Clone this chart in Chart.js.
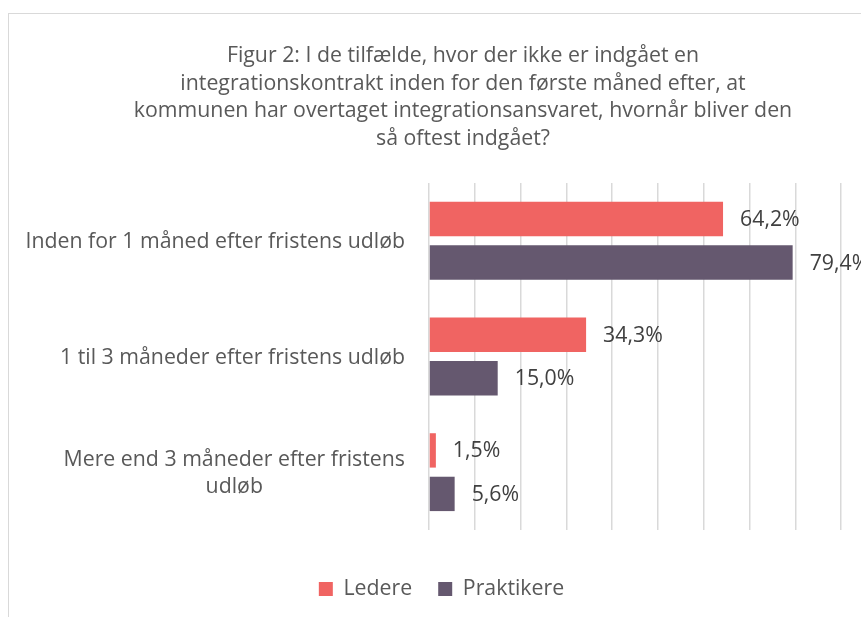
<!DOCTYPE html>
<html>
<head>
<meta charset="utf-8">
<script src="https://cdn.jsdelivr.net/npm/chart.js@4.4.1/dist/chart.umd.min.js"></script>
<style>
html,body{margin:0;padding:0;background:#fff;overflow:hidden;width:861px;height:617px}
#wrap{position:absolute;left:8px;top:13px;width:908px;height:640px;border:1px solid #D9D9D9;background:#fff}
canvas{display:block}
</style>
</head>
<body>
<div id="wrap"><canvas id="c" width="908" height="640"></canvas></div>
<script>
// ---- data ----
const titleLines = [
  "Figur 2: I de tilfælde, hvor der ikke er indgået en",
  "integrationskontrakt inden for den første måned efter, at",
  "kommunen har overtaget integrationsansvaret, hvornår bliver den",
  "så oftest indgået?"
];
const categories = [
  ["Inden for 1 måned efter fristens udløb"],
  ["1 til 3 måneder efter fristens udløb"],
  ["Mere end 3 måneder efter fristens", "udløb"]
];
const seriesNames = ["Ledere", "Praktikere"];
const ledere = [64.2, 34.3, 1.5];
const praktikere = [79.4, 15.0, 5.6];
const xMin = 0, xMax = 100, xStep = 10;

// ---- styles ----
const FONT = "Open Sans";
const FS = 21.3;
const TEXT = "#595959";
const LABEL = "#404040";
const colors = ["#F06462", "#65586F"];

const yLabelPlugin = {
  id: "yLabels",
  afterDraw(chart) {
    const s = chart.scales.y, ctx = chart.ctx;
    ctx.save();
    ctx.font = FS + "px '" + FONT + "'";
    ctx.fillStyle = TEXT;
    ctx.textAlign = "center";
    ctx.textBaseline = "alphabetic";
    const right = s.right - 24;
    const lh = 27.5;
    categories.forEach((lines, i) => {
      const cy = s.getPixelForValue(i);
      const w = Math.max(...lines.map(l => ctx.measureText(l).width));
      const cx = right - w / 2;
      const y0 = cy + 7.5 - (lines.length - 1) * lh / 2;
      lines.forEach((l, j) => ctx.fillText(l, cx, y0 + j * lh));
    });
    ctx.restore();
  }
};

const valueLabelPlugin = {
  id: "valueLabels",
  afterDatasetsDraw(chart) {
    const ctx = chart.ctx;
    ctx.save();
    ctx.font = FS + "px '" + FONT + "'";
    ctx.fillStyle = LABEL;
    ctx.textAlign = "left";
    ctx.textBaseline = "middle";
    chart.data.datasets.forEach((ds, di) => {
      const meta = chart.getDatasetMeta(di);
      meta.data.forEach((bar, i) => {
        const txt = ds.data[i].toFixed(1).replace(".", ",") + "%";
        ctx.fillText(txt, bar.x + 17, bar.y + 1);
      });
    });
    ctx.restore();
  }
};

const legendShift = {
  id: "legendShift",
  afterLayout(chart) {
    if (chart.legend) { chart.legend.right -= 43; }
  }
};

new Chart(document.getElementById("c"), {
  type: "bar",
  data: {
    labels: categories,
    datasets: [
      { label: seriesNames[0], data: ledere, backgroundColor: colors[0], borderWidth: 0,
        categoryPercentage: 0.752, barPercentage: 0.79 },
      { label: seriesNames[1], data: praktikere, backgroundColor: colors[1], borderWidth: 0,
        categoryPercentage: 0.752, barPercentage: 0.79 }
    ]
  },
  options: {
    indexAxis: "y",
    responsive: false,
    animation: false,
    devicePixelRatio: 1,
    layout: { padding: { left: 0, right: 0, top: 0, bottom: 44.35 } },
    scales: {
      x: {
        type: "linear", min: xMin, max: xMax,
        ticks: { display: false, stepSize: xStep },
        grid: { color: "#D9D9D9", lineWidth: 1.5, drawTicks: false },
        border: { display: false },
        afterFit(s) { s.height = 22.35; }
      },
      y: {
        type: "category",
        ticks: { display: false },
        grid: { display: false, drawTicks: false },
        border: { display: false },
        afterFit(s) { s.width = 420; }
      },
      y2: {
        type: "category", position: "right", labels: categories,
        ticks: { display: false },
        grid: { display: false, drawTicks: false },
        border: { display: false },
        afterFit(s) { s.width = 30; }
      }
    },
    plugins: {
      title: {
        display: true,
        text: titleLines,
        color: TEXT,
        font: { family: FONT, size: FS, weight: "normal", lineHeight: 1.30 },
        padding: { top: 28, bottom: 30.2 }
      },
      legend: {
        display: true,
        position: "bottom",
        labels: {
          color: TEXT,
          font: { family: FONT, size: FS },
          boxWidth: 14, boxHeight: 14,
          padding: 26
        }
      },
      tooltip: { enabled: false }
    }
  },
  plugins: [yLabelPlugin, valueLabelPlugin, legendShift]
});
</script>
</body>
</html>
